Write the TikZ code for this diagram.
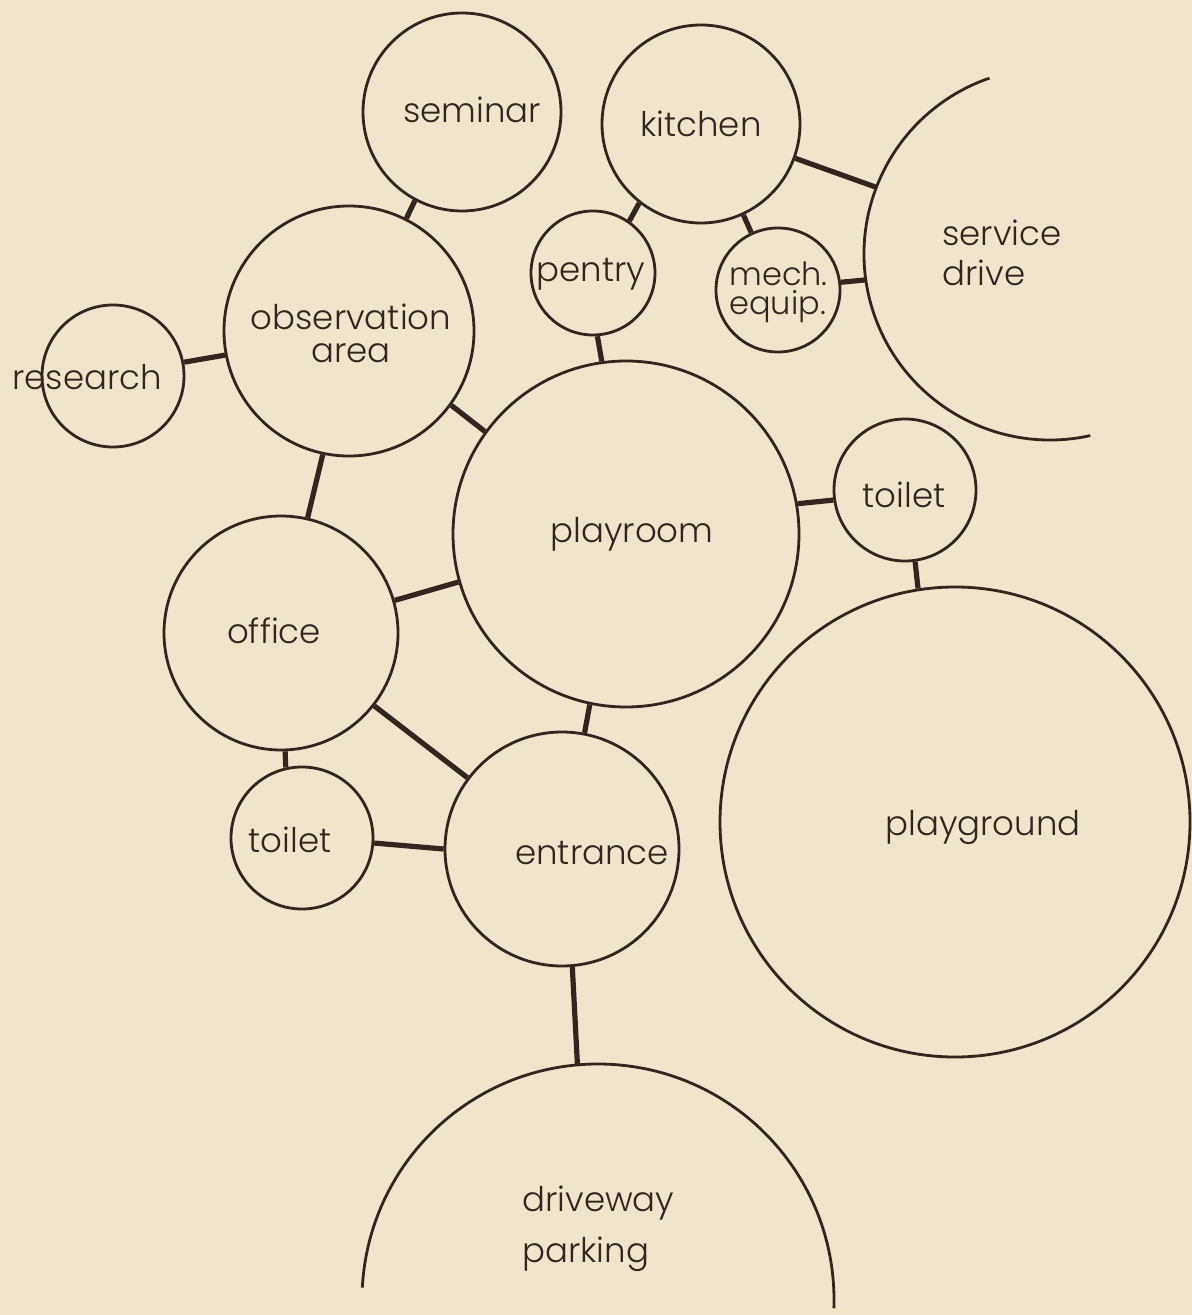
\documentclass[tikz,border=0pt]{standalone}
\usepackage{fontspec}
\setmainfont{Poppins}[UprightFont=* Light]
\definecolor{paper}{RGB}{239,229,204}
\definecolor{ink}{RGB}{52,36,32}

\begin{document}
\begin{tikzpicture}[x=0.5pt, y=-0.5pt,
  room/.style  = { circle, draw=ink, line width=1.4pt, inner sep=0pt, minimum size=#1 },
  ghost/.style = { circle, inner sep=0pt, outer sep=0pt, minimum size=#1 },
  tag/.style   = { text=ink, inner sep=0pt, font=\fontsize{17}{17}\selectfont },
  link/.style  = { draw=ink, line width=2.6pt }]
  \path[use as bounding box, fill=paper] (0,0) rectangle (1192,1315);

  % rooms
  \node[room=99pt]  (seminar)     at (462,112)  {};
  \node[room=99pt]  (kitchen)     at (701,124)  {};
  \node[room=62pt]  (pentry)      at (593,273)  {};
  \node[room=62pt]  (mech)        at (778,290)  {};
  \node[room=125pt] (observation) at (349,331)  {};
  \node[room=71pt]  (research)    at (113,376)  {};
  \node[room=173pt] (playroom)    at (626,534)  {};
  \node[room=71pt]  (toiletR)     at (905,490)  {};
  \node[room=117pt] (office)      at (281,633)  {};
  \node[room=71pt]  (toiletL)     at (302,838)  {};
  \node[room=117pt] (entrance)    at (562,849)  {};
  \node[room=235pt] (playground)  at (955,822)  {};
  \node[ghost=186pt] (service)    at (1050,254) {};
  \node[ghost=236pt] (parking)    at (598,1300) {};
  \draw[ink, line width=1.4pt] (service.109) arc[start angle=109, end angle=282.5, radius=93pt];
  \draw[ink, line width=1.4pt] (parking.177) arc[start angle=177, end angle=-2, radius=118pt];

  % names
  \node[tag, anchor=base] (seminar-t)    at (472,123)  {seminar};
  \node[tag, anchor=base] (kitchen-t)    at (701,137)  {kitchen};
  \node[tag, anchor=base] (pentry-t)     at (591,282)  {pentry};
  \node[tag, anchor=base west, align=left, font=\fontsize{16}{14.5}\selectfont] (mech-t) at (729,315) {mech.\\equip.};
  \node[tag, anchor=base west, align=left] (service-t) at (942,286) {service\\[3pt]drive};
  \node[tag, anchor=base, align=center] (observation-t) at (351,363) {observation\\[-0.5pt]area};
  \node[tag, anchor=base] (research-t)   at (87,390)   {research};
  \node[tag, anchor=base] (playroom-t)   at (632,542)  {playroom};
  \node[tag, anchor=base] (toiletR-t)    at (904,507)  {toilet};
  \node[tag, anchor=base] (office-t)     at (274,643)  {office};
  \node[tag, anchor=base] (toiletL-t)    at (290,852)  {toilet};
  \node[tag, anchor=base] (entrance-t)   at (592,864)  {entrance};
  \node[tag, anchor=base] (playground-t) at (983,835)  {playground};
  \node[tag, anchor=base west, align=left] (parking-t) at (522,1262) {driveway\\[7pt]parking};

  % links
  \foreach \a/\b in {seminar.242/observation.63, kitchen.232/pentry.55,
      kitchen.295/mech.115, kitchen.340/service.159, mech.7/service.188,
      pentry.274/playroom.98, research.11/observation.191,
      observation.324/playroom.144, observation.258/office.77,
      playroom.10/toiletR.188, toiletR.278/playground.99,
      playroom.196/office.16, playroom.258/entrance.79,
      office.272/toiletL.103, office.322/entrance.143,
      toiletL.356/entrance.180, entrance.275/parking.95}
    \draw[link] (\a) -- (\b);
\end{tikzpicture}
\end{document}
